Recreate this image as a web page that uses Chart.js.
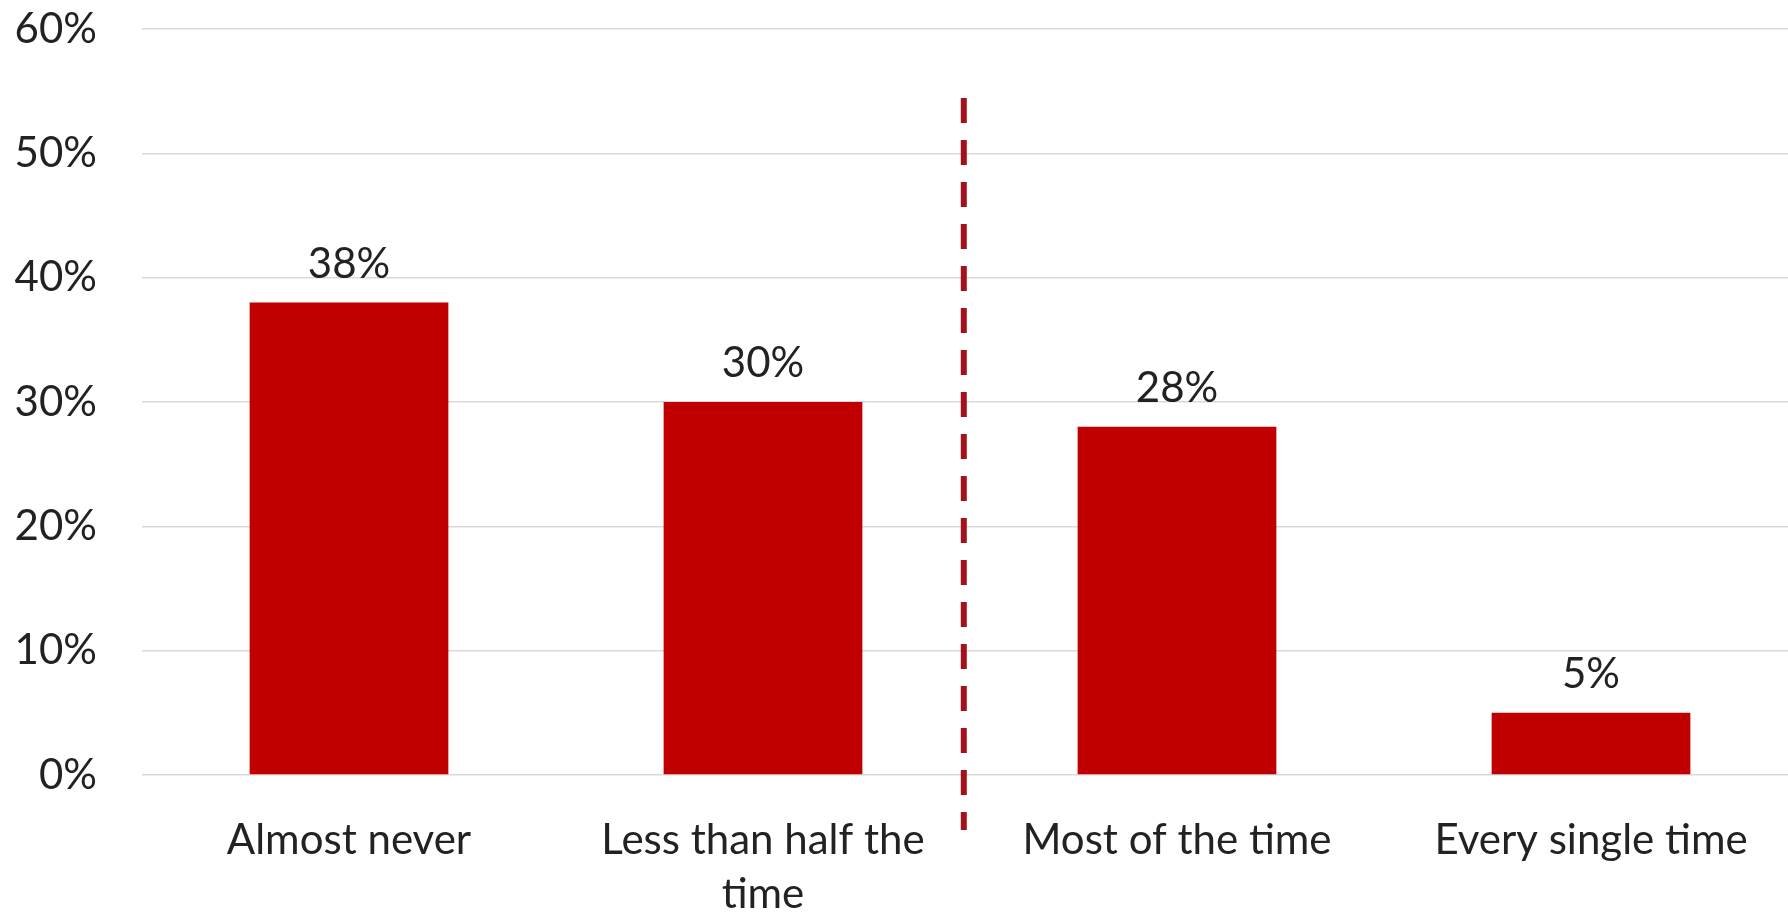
<!DOCTYPE html>
<html>
<head>
<meta charset="utf-8">
<script src="https://cdn.jsdelivr.net/npm/chart.js@4"></script>
<style>
  html, body { margin: 0; padding: 0; background: #fff; overflow: hidden; }
  #wrap { width: 1798px; height: 916px; }
</style>
</head>
<body>
<div id="wrap"><canvas id="chartFreq" width="1798" height="916"></canvas></div>
<script>
var categories = ['Almost never', ['Less than half the', 'time'], 'Most of the time', 'Every single time'];
var shares = [38, 30, 28, 5];
var yTicks = [0, 10, 20, 30, 40, 50, 60];

var fontFamily = 'Lato, "Open Sans", sans-serif';

// value labels over the bars
var barLabels = {
    id: 'barLabels',
    afterDatasetsDraw: function (chart) {
        var ctx = chart.ctx;
        var meta = chart.getDatasetMeta(0);
        ctx.save();
        ctx.font = '42px ' + fontFamily;
        ctx.fillStyle = '#222';
        ctx.textAlign = 'center';
        ctx.textBaseline = 'alphabetic';
        meta.data.forEach(function (bar, i) {
            ctx.fillText(shares[i] + '%', bar.x, bar.y - 25);
        });
        ctx.restore();
    }
};

// dashed divider between "less than half" and "most of the time"
var divider = {
    id: 'divider',
    afterDatasetsDraw: function (chart) {
        var ctx = chart.ctx;
        var x = chart.scales.x.getPixelForValue(1.485);
        ctx.save();
        ctx.strokeStyle = '#A3121C';
        ctx.lineWidth = 6;
        ctx.setLineDash([25, 17]);
        ctx.beginPath();
        ctx.moveTo(x, 98);
        ctx.lineTo(x, 830);
        ctx.stroke();
        ctx.restore();
    }
};

var ctxFreq = document.getElementById('chartFreq').getContext('2d');
var chartFreq = new Chart(ctxFreq, {
    type: 'bar',
    data: {
        labels: categories,
        datasets: [{
            data: shares,
            backgroundColor: '#C00000',
            barPercentage: 0.48,
            categoryPercentage: 1
        }]
    },
    options: {
        responsive: false,
        animation: false,
        layout: { padding: { top: 29, right: 0, bottom: 0, left: 0 } },
        plugins: {
            legend: { display: false },
            tooltip: { enabled: false }
        },
        scales: {
            x: {
                grid: { display: false, drawTicks: false },
                border: { display: false },
                ticks: {
                    color: '#222',
                    font: { family: fontFamily, size: 42, lineHeight: 1.3 },
                    padding: 38,
                    maxRotation: 0,
                    autoSkip: false
                },
                afterFit: function (axis) {
                    axis.height = 141;
                    axis.paddingLeft = 0;
                    axis.paddingRight = 0;
                }
            },
            y: {
                min: 0,
                max: 60,
                afterBuildTicks: function (axis) {
                    axis.ticks = yTicks.map(function (v) { return { value: v }; });
                },
                grid: { color: '#D9D9D9', lineWidth: 1.5, drawTicks: false },
                border: { display: false },
                ticks: {
                    color: '#222',
                    font: { family: fontFamily, size: 42 },
                    padding: 45,
                    callback: function (v) { return v + '%'; }
                },
                afterFit: function (axis) {
                    axis.width = 142;
                    axis.paddingTop = 0;
                    axis.paddingBottom = 0;
                }
            }
        }
    },
    plugins: [barLabels, divider]
});
</script>
</body>
</html>
